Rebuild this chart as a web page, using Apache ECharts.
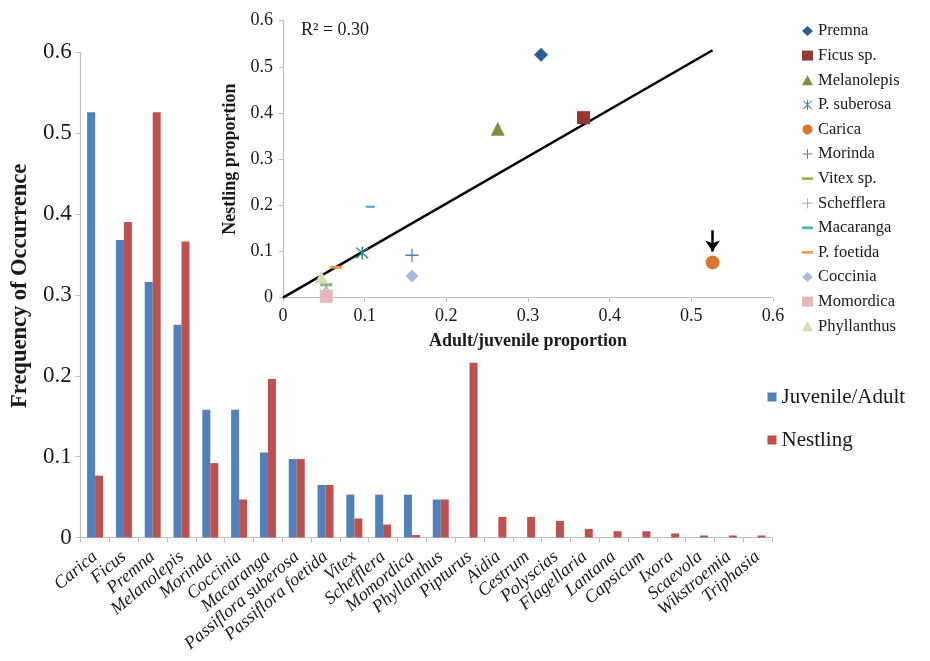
<!DOCTYPE html>
<html>
<head>
<meta charset="utf-8">
<script src="https://cdn.jsdelivr.net/npm/echarts@6/dist/echarts.min.js"></script>
<style>html,body{margin:0;padding:0;background:#fff}#c{width:930px;height:661px}</style>
</head>
<body>
<div id="c"></div>
<script>
// ---- Data ----
const categories = ['Carica','Ficus','Premna','Melanolepis','Morinda','Coccinia','Macaranga','Passiflora suberosa','Passiflora foetida','Vitex','Schefflera','Momordica','Phyllanthus','Pipturus','Aidia','Cestrum','Polyscias','Flagellaria','Lantana','Capsicum','Ixora','Scaevola','Wikstroemia','Triphasia'];
const juvenileAdult = [0.526,0.368,0.316,0.263,0.158,0.158,0.105,0.097,0.065,0.053,0.053,0.053,0.047,0,0,0,0,0,0,0,0,0,0,0];
const nestling = [0.0765,0.390,0.526,0.366,0.092,0.047,0.196,0.097,0.065,0.0235,0.016,0.003,0.047,0.216,0.0255,0.0255,0.0205,0.0105,0.0078,0.0078,0.005,0.0025,0.0025,0.0025];

const scatterNames = ['Premna','Ficus sp.','Melanolepis','P. suberosa','Carica','Morinda','Vitex sp.','Schefflera','Macaranga','P. foetida','Coccinia','Momordica','Phyllanthus'];
const scatterX = [0.316,0.368,0.263,0.097,0.526,0.158,0.053,0.053,0.107,0.065,0.158,0.053,0.047];
const scatterY = [0.526,0.390,0.366,0.097,0.0765,0.092,0.028,0.022,0.197,0.066,0.047,0.003,0.045];
const trendX = [0, 0.526];
const trendY = [0, 0.536];
const arrowX = [0.526, 0.526];
const arrowY = [0.146, 0.100];
const mainTicks = [0, 0.6, 0.1];
const insetTicks = [0, 0.6, 0.1];

// ---- Styles ----
const FONT = '"Liberation Serif","Times New Roman",serif';
const TXT = '#1a1a1a';
const AX = '#BFBFBF';
const PLUS = 'path://M4.5,0h1v4.5h4.5v1h-4.5v4.5h-1v-4.5h-4.5v-1h4.5z';
const AST = 'path://M4.5,0h1v10h-1z M0.6,1.3l0.7,-0.7l8.1,8.1l-0.7,0.7z M8.7,0.6l0.7,0.7l-8.1,8.1l-0.7,-0.7z';
const DASH = 'path://M0,0h10v2.4h-10z';
const scatterStyle = [
  {symbol:'diamond', size:14, color:'#2E5C9A'},
  {symbol:'rect', size:13, color:'#953735'},
  {symbol:'triangle', size:14, color:'#77933C'},
  {symbol:AST, size:13, color:'#31859C'},
  {symbol:'circle', size:14, color:'#D9782D'},
  {symbol:PLUS, size:13, color:'#4F81BD'},
  {symbol:DASH, size:12, color:'#8DB44A', keep:true},
  {symbol:PLUS, size:13, color:'#95B3D7', rot:45},
  {symbol:DASH, size:9, color:'#4BACC6', keep:true},
  {symbol:DASH, size:12, color:'#F79646', keep:true},
  {symbol:'diamond', size:13, color:'#A9BCE0'},
  {symbol:'rect', size:13, color:'#E6B9B8'},
  {symbol:'triangle', size:13, color:'#D0DFB3'}
];

const scatterSeries = scatterNames.map((n, i) => {
  const st = scatterStyle[i];
  const s = {
    name: n, type: 'scatter', xAxisIndex: 1, yAxisIndex: 1,
    symbol: st.symbol, symbolSize: st.size, symbolKeepAspect: !!st.keep,
    symbolRotate: st.rot || 0,
    itemStyle: {color: st.color, opacity: 1},
    data: [[scatterX[i], scatterY[i]]], z: 5
  };
  if (n === 'Carica') {
    s.markLine = {
      silent: true, symbol: ['none','arrow'], symbolSize: [11, 11],
      label: {show: false},
      lineStyle: {color: '#000', width: 2.5, type: 'solid'},
      data: [[{coord: [arrowX[0], arrowY[0]], symbol: 'none'}, {coord: [arrowX[1], arrowY[1]], symbol: 'arrow'}]]
    };
  }
  return s;
});

const chart = echarts.init(document.getElementById('c'), null, {renderer: 'canvas'});
chart.setOption({
  animation: false,
  backgroundColor: '#fff',
  textStyle: {fontFamily: FONT, color: TXT},
  title: {text: 'R\u00B2 = 0.30', left: 296, top: 16, textStyle: {fontFamily: FONT, fontSize: 18, fontWeight: 'normal', color: TXT}},
  grid: [
    {left: 80.7, right: 158, top: 52.3, bottom: 123.5, containLabel: false, outerBoundsMode: 'none'},
    {left: 283, right: 157, top: 20.7, bottom: 363.3, containLabel: false, outerBoundsMode: 'none'}
  ],
  legend: [
    {
      data: ['Juvenile/Adult','Nestling'], orient: 'vertical', left: 767.5, top: 385,
      itemWidth: 9, itemHeight: 9, itemGap: 19, icon: 'rect', padding: 0,
      textStyle: {fontFamily: FONT, fontSize: 21, color: TXT, lineHeight: 24}
    },
    {
      data: scatterNames, orient: 'vertical', left: 802, top: 22,
      itemWidth: 11, itemHeight: 10, itemGap: 6.6, padding: 0,
      textStyle: {fontFamily: FONT, fontSize: 16.5, color: TXT, lineHeight: 18}
    }
  ],
  xAxis: [
    {
      type: 'category', gridIndex: 0, data: categories,
      axisLine: {lineStyle: {color: AX, width: 1.2}},
      axisTick: {show: true, length: 5, lineStyle: {color: AX}},
      axisLabel: {rotate: 40, interval: 0, margin: 17, fontFamily: FONT, fontStyle: 'italic', fontSize: 18, color: TXT}
    },
    {
      type: 'value', gridIndex: 1, min: insetTicks[0], max: insetTicks[1], interval: insetTicks[2],
      name: 'Adult/juvenile proportion', nameLocation: 'middle', nameGap: 35,
      nameTextStyle: {fontFamily: FONT, fontSize: 18, fontWeight: 'bold', color: TXT},
      splitLine: {show: false},
      axisLine: {show: true, lineStyle: {color: AX, width: 1.2}},
      axisTick: {show: true, length: 4, lineStyle: {color: AX}},
      axisLabel: {margin: 10, fontFamily: FONT, fontSize: 18, color: TXT}
    }
  ],
  yAxis: [
    {
      type: 'value', gridIndex: 0, min: mainTicks[0], max: mainTicks[1], interval: mainTicks[2],
      name: 'Frequency of Occurrence', nameLocation: 'middle', nameGap: 47,
      nameTextStyle: {fontFamily: FONT, fontSize: 22.5, fontWeight: 'bold', color: TXT, padding: [0,0,0,18]},
      splitLine: {show: false},
      axisLine: {show: true, lineStyle: {color: AX, width: 1.2}},
      axisTick: {show: true, length: 5, lineStyle: {color: AX}},
      axisLabel: {margin: 9, fontFamily: FONT, fontSize: 23, color: TXT}
    },
    {
      type: 'value', gridIndex: 1, min: insetTicks[0], max: insetTicks[1], interval: insetTicks[2],
      name: 'Nestling proportion', nameLocation: 'middle', nameGap: 42,
      nameTextStyle: {fontFamily: FONT, fontSize: 18, fontWeight: 'bold', color: TXT},
      splitLine: {show: false},
      axisLine: {show: true, lineStyle: {color: AX, width: 1.2}},
      axisTick: {show: true, length: 4, lineStyle: {color: AX}},
      axisLabel: {margin: 10, fontFamily: FONT, fontSize: 18, color: TXT}
    }
  ],
  series: [
    {name: 'Juvenile/Adult', type: 'bar', xAxisIndex: 0, yAxisIndex: 0, data: juvenileAdult, barWidth: 8, barGap: '0%', itemStyle: {color: '#4F81BD'}},
    {name: 'Nestling', type: 'bar', xAxisIndex: 0, yAxisIndex: 0, data: nestling, barWidth: 8, barGap: '0%', itemStyle: {color: '#C0504D'}},
    {name: 'trend', type: 'line', xAxisIndex: 1, yAxisIndex: 1, data: trendX.map((x, i) => [x, trendY[i]]), showSymbol: false, symbol: 'none', lineStyle: {color: '#000', width: 2.5}, z: 4, silent: true}
  ].concat(scatterSeries)
});
</script>
</body>
</html>
